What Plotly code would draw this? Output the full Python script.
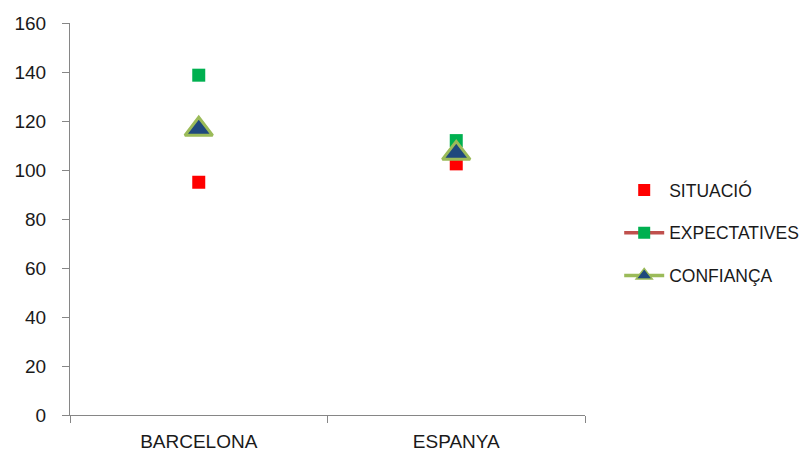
import plotly.graph_objects as go

categories = ["BARCELONA", "ESPANYA"]
situacio = [95, 102.5]
expectatives = [138.7, 112]
confianca = [116.6, 106.8]

series_names = ["SITUACIÓ", "EXPECTATIVES", "CONFIANÇA"]

FONT = "Liberation Sans"
FS = 19
TXT = "#1a1a1a"

fig = go.Figure()

# data traces (markers only)
fig.add_trace(go.Scatter(x=categories, y=situacio, mode="markers", showlegend=False,
                         marker=dict(symbol="square", size=13, color="#FF0000")))
fig.add_trace(go.Scatter(x=categories, y=expectatives, mode="markers", showlegend=False,
                         marker=dict(symbol="square", size=13, color="#00B050")))
fig.add_trace(go.Scatter(x=categories, y=confianca, mode="markers", showlegend=False,
                         marker=dict(symbol="triangle-up", size=24, color="#1F497D",
                                     line=dict(color="#9BBB59", width=3))))

# legend entries
fig.add_trace(go.Scatter(x=[None], y=[None], mode="markers", name=series_names[0],
                         legendgroup="a",
                         marker=dict(symbol="square", size=12, color="#FF0000")))
fig.add_trace(go.Scatter(x=[None], y=[None], mode="lines+markers", name=series_names[1],
                         legendgroup="b",
                         line=dict(color="#C0504D", width=3.5),
                         marker=dict(symbol="square", size=12, color="#00B050")))
fig.add_trace(go.Scatter(x=[None], y=[None], mode="lines+markers", name=series_names[2],
                         legendgroup="c",
                         line=dict(color="#9BBB59", width=3.5),
                         marker=dict(symbol="triangle-up", size=14, color="#1F497D",
                                     line=dict(color="#9BBB59", width=1.5))))

fig.update_layout(
    width=800, height=446,
    margin=dict(l=62, r=223, t=15, b=39, autoexpand=False),
    paper_bgcolor="white", plot_bgcolor="white",
    font=dict(family=FONT, size=FS, color=TXT),
    showlegend=True,
    legend=dict(xref="container", yref="container", x=0.764, y=0.4955,
                xanchor="left", yanchor="middle",
                font=dict(family=FONT, size=17.5, color=TXT),
                tracegroupgap=17, itemwidth=40, bgcolor="rgba(0,0,0,0)"),
    xaxis=dict(type="category", range=[-0.5, 1.5], showline=True, linecolor="#868686",
               linewidth=1, ticks="outside", tickson="boundaries", ticklen=7,
               tickcolor="#868686", showgrid=False, zeroline=False, automargin=False,
               ticklabelstandoff=9,
               tickfont=dict(family=FONT, size=FS, color=TXT)),
    yaxis=dict(range=[0, 160], dtick=20, showline=True, linecolor="#868686", linewidth=1,
               ticks="outside", ticklen=7, tickcolor="#868686", showgrid=False,
               zeroline=False, automargin=False, ticklabelstandoff=12,
               tickfont=dict(family=FONT, size=FS, color=TXT)),
)

fig.write_html("out.html")
